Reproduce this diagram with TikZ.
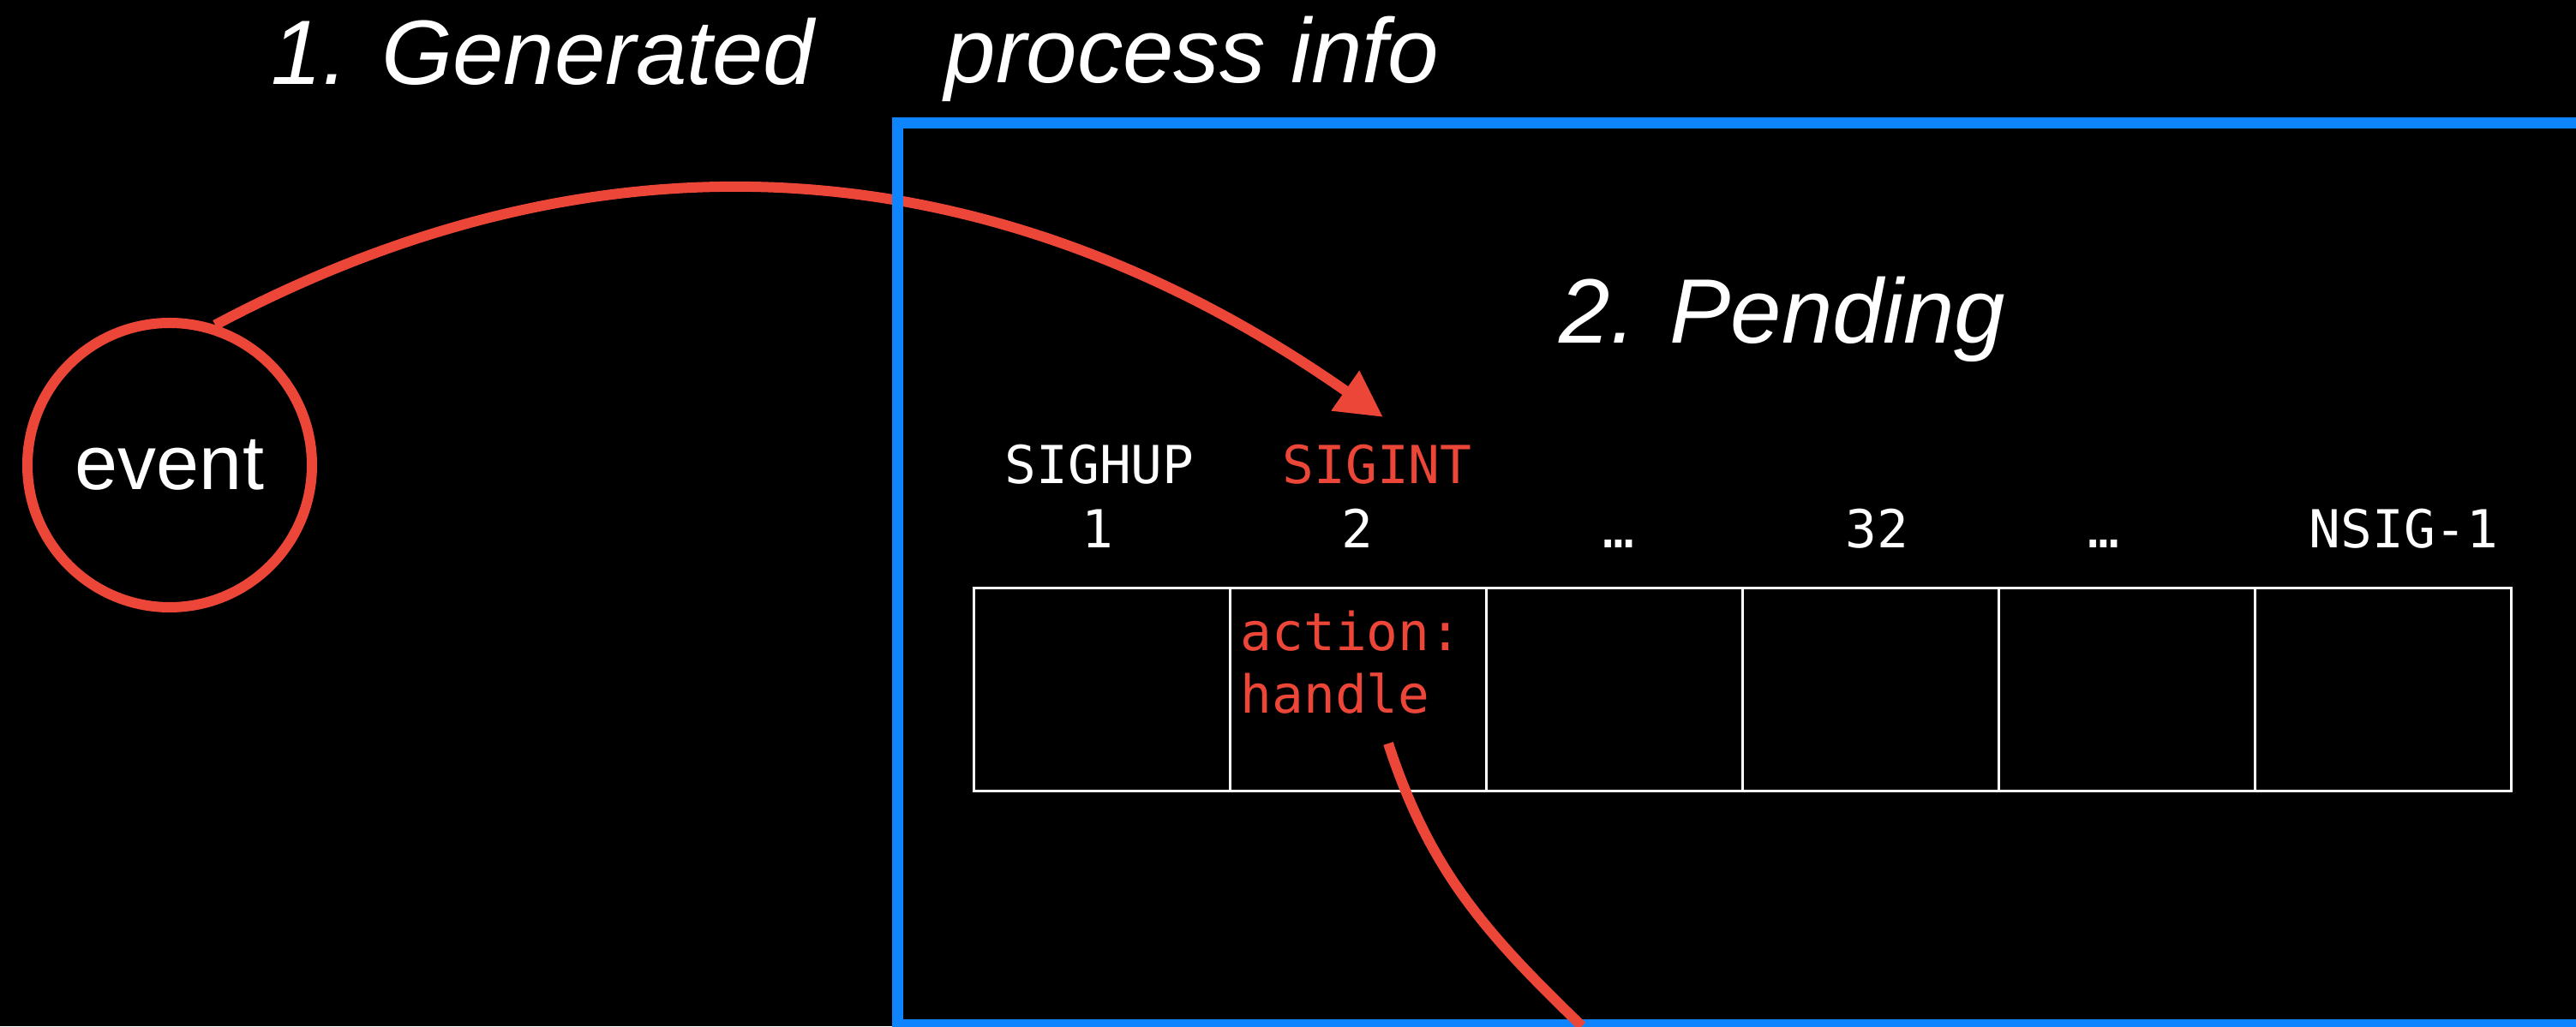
\documentclass[tikz,border=0pt]{standalone}
\usepackage{fontspec}
\setmainfont{Liberation Sans}
\setmonofont{DejaVu Sans Mono}
\usepackage{tikz}
\usetikzlibrary{arrows.meta,positioning}
\usepackage{xcolor}

\definecolor{sigred}{RGB}{236,70,56}
\definecolor{procblue}{RGB}{15,132,255}

\begin{document}
\begin{tikzpicture}[
  title/.style={text=white, font=\fontsize{30.4}{36}\selectfont\itshape, inner sep=0pt, anchor=base west},
  sigcell/.style={rectangle, draw=white, line width=0.03cm, minimum width=2.99cm, minimum height=2.36cm, inner sep=0pt},
  siglabel/.style={text=white, font=\fontsize{17.4}{20.8}\selectfont\ttfamily, inner sep=0pt, anchor=base},
  redline/.style={sigred, line width=0.12cm}
]

% 背景
\useasboundingbox (0,0) rectangle (30.06,11.98);
\fill[black] (0,0) rectangle (30.06,11.98);

% 見出し
\node[title] (gen) at (3.16,10.99) {1. Generated};
\node[title] (info) at (11.02,11.01) {process info};
\node[title] (pend) at (18.19,7.97) {2. Pending};

% イベント
\node[circle, draw=sigred, line width=0.12cm, minimum size=3.32cm, inner sep=0pt, text=white, font=\fontsize{25.6}{30}\selectfont] (event) at (1.98,6.55) {event};

% 信号テーブル
\node[sigcell] (c1) at (12.86,3.93) {};
\node[sigcell] (c3) at (18.84,3.93) {};
\node[sigcell] (c4) at (21.83,3.93) {};
\node[sigcell] (c5) at (24.82,3.93) {};
\node[sigcell] (c6) at (27.81,3.93) {};
\node[sigcell] (c2) at (15.85,3.93) {};

\node[siglabel] (hup) at (12.83,6.33) {SIGHUP};
\node[siglabel, text=sigred] (int) at (16.07,6.33) {SIGINT};
\node[siglabel] (n1) at (12.81,5.58) {1};
\node[siglabel] (n2) at (15.84,5.58) {2};
\node[siglabel] (d1) at (18.89,5.58) {…};
\node[siglabel] (n32) at (21.90,5.58) {32};
\node[siglabel] (d2) at (24.55,5.58) {…};
\node[siglabel] (nsig) at (28.05,5.58) {NSIG-1};

\node[siglabel, text=sigred, anchor=base west] (act) at (14.47,4.38) {action:};
\node[siglabel, text=sigred, anchor=base west] (hdl) at (14.47,3.65) {handle};

% 矢印
\coordinate (hit) at (16.14,7.11);
\draw[redline, -{Triangle[length=0.54cm,width=0.54cm]}] (event.72) to[out=28,in=145] (hit);

% process info の枠
\draw[procblue, line width=0.13cm] (10.47,10.54) rectangle (30.40,0.02);

\coordinate (tail) at (16.20,3.30);
\coordinate (exit) at (18.46,0);
\draw[redline] (tail) to[out=-72,in=136] (exit);

\end{tikzpicture}
\end{document}
